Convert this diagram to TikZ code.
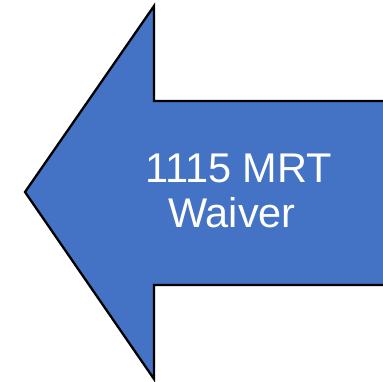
\documentclass[tikz,border=0pt]{standalone}
\usepackage{fontspec}
\setmainfont{Liberation Sans}
\definecolor{arrowblue}{HTML}{4472C4}
\begin{document}
\begin{tikzpicture}[x=1pt,y=-1pt,
  arrowshape/.style={fill=arrowblue,draw=black,line width=2.3pt,line join=miter},
  label/.style={text=white,font=\fontsize{41.5}{46}\selectfont,inner sep=0pt,anchor=base west}]
\useasboundingbox (0,0) rectangle (383,381);
\clip (0,0) rectangle (383,381);
\coordinate (tip) at (25,192);
\coordinate (ht) at (154,6);
\coordinate (st) at (154,101);
\coordinate (se) at (395,101);
\coordinate (sb) at (395,285);
\coordinate (hbs) at (154,285);
\coordinate (hb) at (154,379);
\draw[arrowshape] (tip) -- (ht) -- (st) -- (se) -- (sb) -- (hbs) -- (hb) -- cycle;
\node[label] (l1) at (145,182) {1115 MRT};
\node[label] (l2) at (168,227) {Waiver};
\end{tikzpicture}
\end{document}
